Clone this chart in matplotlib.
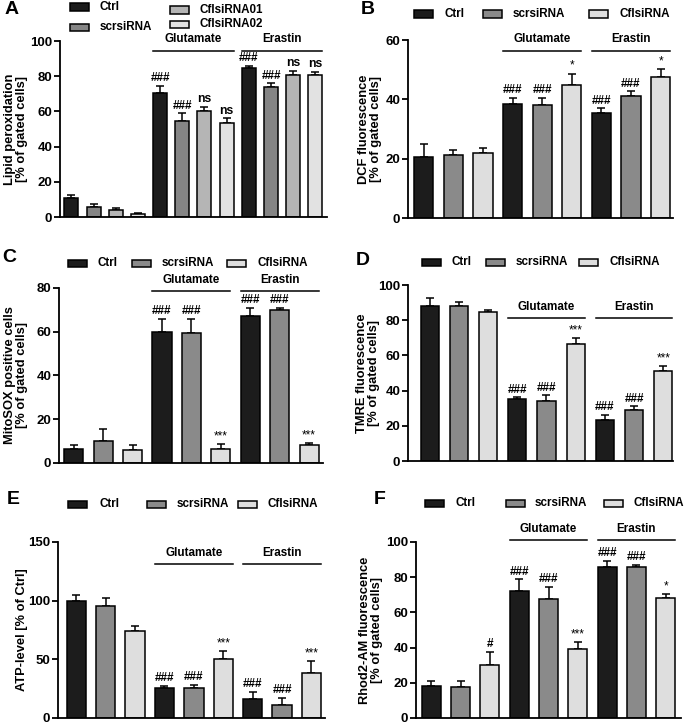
import numpy as np
import matplotlib
matplotlib.use("Agg")
import matplotlib.pyplot as plt
from matplotlib.patches import Rectangle

plt.rcParams['font.family'] = ['Liberation Sans', 'DejaVu Sans']
plt.rcParams['font.weight'] = 'bold'

# --------------------------------------------------------------
# DATA
# --------------------------------------------------------------
labels3 = ["Ctrl", "scrsiRNA", "CflsiRNA"]
labelsA = ["Ctrl", "scrsiRNA", "CflsiRNA01", "CflsiRNA02"]
treatments = ["Glutamate", "Erastin"]

lipid_mean = [10.6, 5.8, 3.8, 1.6, 70.3, 54.7, 60.2, 53.6, 84.5, 73.7, 80.7, 80.7]
lipid_sem = [1.9, 1.4, 1.2, 0.8, 4.3, 4.2, 2.5, 2.4, 1.5, 2.3, 2.3, 1.7]
lipid_sig = ["", "", "", "", "###", "###", "ns", "ns", "###", "###", "ns", "ns"]

dcf_mean = [20.7, 21.2, 21.9, 38.4, 38.0, 44.7, 35.3, 41.0, 47.5]
dcf_sem = [4.3, 1.6, 1.6, 2.2, 2.6, 4.0, 1.7, 1.7, 2.6]
dcf_sig = ["", "", "", "###", "###", "*", "###", "###", "*"]

mitosox_mean = [6.6, 10.1, 5.9, 59.9, 59.3, 6.4, 67.2, 69.8, 8.1]
mitosox_sem = [1.8, 5.3, 2.2, 6.1, 6.7, 2.3, 3.7, 1.1, 1.0]
mitosox_sig = ["", "", "", "###", "###", "***", "###", "###", "***"]

tmre_mean = [88.3, 87.9, 84.5, 35.2, 33.9, 66.7, 23.1, 29.2, 51.1]
tmre_sem = [4.1, 2.4, 1.3, 1.0, 3.4, 3.2, 3.2, 1.9, 3.1]
tmre_sig = ["", "", "", "###", "###", "***", "###", "###", "***"]

atp_mean = [99.4, 95.5, 74.4, 25.3, 25.9, 50.3, 15.9, 11.4, 38.4]
atp_sem = [5.4, 6.5, 3.7, 2.3, 2.5, 6.5, 6.3, 5.6, 9.9]
atp_sig = ["", "", "", "###", "###", "***", "###", "###", "***"]

rhod_mean = [18.0, 17.6, 30.1, 72.3, 67.8, 39.2, 85.6, 85.6, 68.4]
rhod_sem = [2.8, 3.2, 7.4, 6.5, 6.8, 4.0, 3.6, 1.5, 1.9]
rhod_sig = ["", "", "#", "###", "###", "***", "###", "###", "*"]

# --------------------------------------------------------------
# STYLE
# --------------------------------------------------------------
W, H = 685, 724
colors3 = ["#1c1c1c", "#8a8a8a", "#dedede"]
colors4 = ["#1c1c1c", "#858585", "#b5b5b5", "#e2e2e2"]

fig = plt.figure(figsize=(W / 100, H / 100), dpi=100)


def px_rect(left, right, top, bottom):
    # pixel box (top-origin) -> figure fraction
    return [left / W, 1 - bottom / H, (right - left) / W, (bottom - top) / H]


def draw_legend(items, y):
    # items: (handle_left_px, text_left_px, label, color)
    for hx, tx, lab, col in items:
        fig.patches.append(Rectangle((hx / W, 1 - (y + 3.5) / H), 19 / W, 7 / H,
                                     transform=fig.transFigure, facecolor=col,
                                     edgecolor="black", lw=1.1))
        fig.text(tx / W, 1 - y / H, lab, fontsize=8.4, fontweight="bold",
                 va="center", ha="left")


def draw_panel(box, ymax, ystep, xlim, width, means, sems, sig, colors,
               ylabel, label_right, line_y, text_y, spans, letter, letter_xy):
    ax = fig.add_axes(px_rect(*box))
    x = np.arange(len(means))
    bar_cols = [colors[i % len(colors)] for i in x]
    ax.bar(x, means, width=width, color=bar_cols, edgecolor="black", linewidth=1.1, zorder=2)
    ax.errorbar(x, means, yerr=[np.zeros(len(sems)), sems], fmt="none",
                ecolor="black", elinewidth=1.1, capsize=3, capthick=1.1, zorder=1)

    for xi, m, s, t in zip(x, means, sems, sig):
        if t:
            star = t.startswith("*")
            ax.annotate(t, (xi, m + s), xytext=(0, 1.2), textcoords="offset points",
                        ha="center", va="bottom", fontsize=8.8 if t == "ns" else 8.5,
                        fontweight="normal" if star else "bold")

    # treatment brackets
    for name, (i0, i1) in zip(treatments, spans):
        ax.plot([i0 - width / 2, i1 + width / 2], [line_y, line_y], color="black",
                lw=1.1, clip_on=False)
        ax.text((i0 + i1) / 2, text_y, name, ha="center", va="center",
                fontsize=8.4, fontweight="bold")

    ax.set_xlim(*xlim)
    ax.set_ylim(0, ymax)
    ax.set_yticks(np.arange(0, ymax + 1, ystep))
    ax.set_xticks([])
    ax.spines[["top", "right"]].set_visible(False)
    ax.spines[["left", "bottom"]].set_linewidth(1.3)
    ax.tick_params(axis="y", length=4, width=1.3, labelsize=9.5, pad=1.5)
    for lab in ax.get_yticklabels():
        lab.set_fontweight("bold")
    ax.set_ylabel(ylabel, fontsize=9.3, fontweight="bold", linespacing=0.95)
    # y label sits a fixed distance left of the axis line
    ax.yaxis.set_label_coords((label_right - box[0]) / (box[1] - box[0]), 0.5)

    fig.text(letter_xy[0] / W, 1 - letter_xy[1] / H, letter, fontsize=14,
             fontweight="bold", ha="center", va="center")
    return ax


# A - lipid peroxidation
draw_panel((60, 327, 41, 217), 100, 20, (-0.51, 11.52), 0.63,
           lipid_mean, lipid_sem, lipid_sig, colors4,
           "Lipid peroxidation\n[% of gated cells]", 28, 94.5, 101.0,
           [(4, 7), (8, 11)], "A", (12, 9))
draw_legend([(70, 100, labelsA[0], colors4[0])], 7)
draw_legend([(70, 100, labelsA[1], colors4[1])], 27)
draw_legend([(170, 200, labelsA[2], colors4[2])], 10)
draw_legend([(170, 200, labelsA[3], colors4[3])], 24)

# B - DCF
draw_panel((408, 673, 40, 218), 60, 20, (-0.53, 8.42), 0.65,
           dcf_mean, dcf_sem, dcf_sig, colors3,
           "DCF fluorescence\n[% of gated cells]", 382, 56.4, 60.2,
           [(3, 5), (6, 8)], "B", (368, 9))
draw_legend([(414, 444, labels3[0], colors3[0]), (483, 513, labels3[1], colors3[1]),
             (589, 619, labels3[2], colors3[2])], 14)

# C - MitoSOX
draw_panel((59, 323, 288, 463), 80, 20, (-0.5, 8.47), 0.65,
           mitosox_mean, mitosox_sem, mitosox_sig, colors3,
           "MitoSOX positive cells\n[% of gated cells]", 28, 78.6, 83.7,
           [(3, 5), (6, 8)], "C", (9, 257))
draw_legend([(68, 98, labels3[0], colors3[0]), (132, 162, labels3[1], colors3[1]),
             (227, 257, labels3[2], colors3[2])], 263)

# D - TMRE
draw_panel((408, 673, 285, 461), 100, 20, (-0.74, 8.33), 0.62,
           tmre_mean, tmre_sem, tmre_sig, colors3,
           "TMRE fluorescence\n[% of gated cells]", 380, 81.4, 87.7,
           [(3, 5), (6, 8)], "D", (363, 261))
draw_legend([(422, 452, labels3[0], colors3[0]), (486, 516, labels3[1], colors3[1]),
             (579, 609, labels3[2], colors3[2])], 262)

# E - ATP
draw_panel((58, 325, 542, 718), 150, 50, (-0.62, 8.46), 0.66,
           atp_mean, atp_sem, atp_sig, colors3,
           "ATP-level [% of Ctrl]", 28, 131, 140.9,
           [(3, 5), (6, 8)], "E", (13, 499))
draw_legend([(68, 99, labels3[0], colors3[0]), (147, 177, labels3[1], colors3[1]),
             (238, 267, labels3[2], colors3[2])], 504)

# F - Rhod2-AM
draw_panel((416, 681, 542, 718), 100, 20, (-0.52, 8.52), 0.65,
           rhod_mean, rhod_sem, rhod_sig, colors3,
           "Rhod2-AM fluorescence\n[% of gated cells]", 383, 101.1, 107.2,
           [(3, 5), (6, 8)], "F", (380, 500))
draw_legend([(425, 456, labels3[0], colors3[0]), (506, 535, labels3[1], colors3[1]),
             (604, 633, labels3[2], colors3[2])], 503)

fig.savefig("out.png", dpi=100)
